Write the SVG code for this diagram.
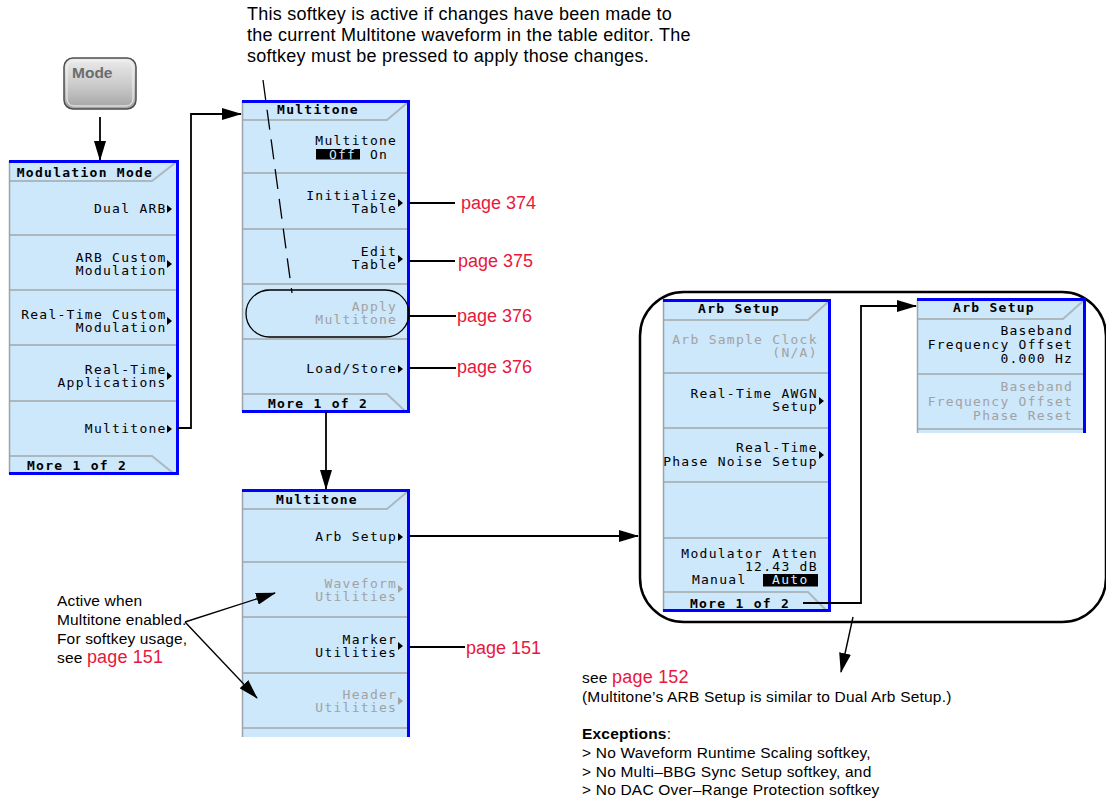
<svg xmlns="http://www.w3.org/2000/svg" width="1106" height="801" viewBox="0 0 1106 801">
<defs>
<linearGradient id="modeg" x1="0" y1="0" x2="0" y2="1">
<stop offset="0" stop-color="#ececec"/>
<stop offset="0.55" stop-color="#c9c9c9"/>
<stop offset="1" stop-color="#a4a4a4"/>
</linearGradient>
<marker id="ah" markerWidth="20" markerHeight="12" refX="19" refY="6" orient="auto" markerUnits="userSpaceOnUse">
<path d="M0,0 L20,6 L0,12 z" fill="#000"/>
</marker>
<style>
.mf{fill:#cde7fb}
.sep{stroke:#adb7be;stroke-width:2;fill:none}
.bb{stroke:#0000ff;stroke-width:3;fill:none}
.lb{stroke:#9ca4aa;stroke-width:1.5;fill:none}
.mt{font-family:"DejaVu Sans Mono",monospace;font-size:13px;letter-spacing:1.27px;fill:#000;text-anchor:end}
.tt{font-weight:bold;text-anchor:middle}
.dis{fill:#a2a2a2}
.inv{fill:#d6ecfb}
.tri{fill:#000}
.trd{fill:#a2a2a2}
.ln{stroke:#000;stroke-width:1.8;fill:none}
.tx{font-family:"Liberation Sans",Arial,sans-serif;fill:#000}
.red{fill:#e8173c}
.pg{font-family:"Liberation Sans",Arial,sans-serif;font-size:18px;fill:#e8173c}
</style>
</defs>
<rect width="1106" height="801" fill="#fff"/>

<g id="mode-key">
<rect x="64" y="58" width="72" height="51" rx="9" fill="url(#modeg)" stroke="#4d4d4d" stroke-width="1.5"/>
<rect x="67" y="61" width="66" height="45" rx="7" fill="none" stroke="#f4f4f4" stroke-width="1"/>
<text x="72" y="78" font-family="Liberation Sans, Arial, sans-serif" font-size="15.5" font-weight="bold" fill="#6c6c6c">Mode</text>
</g>

<g id="top-note" class="tx" font-size="18" letter-spacing="0.25">
<text x="247" y="20">This softkey is active if changes have been made to</text>
<text x="247" y="41">the current Multitone waveform in the table editor. The</text>
<text x="247" y="62">softkey must be pressed to apply those changes.</text>
</g>

<g id="modulation-mode-menu">
<rect class="mf" x="9" y="161" width="169" height="313"/>
<path class="sep" d="M10,181 H152 L175,163"/>
<path class="sep" d="M10,456 H152 L173,473"/>
<path class="sep" d="M10,235 H176 M10,290 H176 M10,345 H176 M10,401 H176"/>
<path class="lb" d="M9.5,161 V474"/>
<path class="bb" d="M9,161.5 H177.5 V473.5 H9"/>
<g class="mt">
<text class="tt" x="85" y="177">Modulation Mode</text>
<text x="166.7" y="213">Dual ARB</text>
<text x="166.7" y="262">ARB Custom<tspan x="166.7" y="275">Modulation</tspan></text>
<text x="166.7" y="319">Real-Time Custom<tspan x="166.7" y="332">Modulation</tspan></text>
<text x="166.7" y="374">Real-Time<tspan x="166.7" y="387">Applications</tspan></text>
<text x="166.7" y="433">Multitone</text>
<text class="tt" x="77" y="470">More 1 of 2</text>
</g>
<path class="tri" d="M167,205 L172,209 L167,213 Z M167,260 L172,264 L167,268 Z M167,317 L172,321 L167,325 Z M167,372 L172,376 L167,380 Z M167,425 L172,429 L167,433 Z"/>
</g>

<g id="multitone-menu-1">
<rect class="mf" x="242" y="101" width="167" height="311"/>
<path class="sep" d="M243,120 H387 L407,103"/>
<path class="sep" d="M243,394 H387 L405,411"/>
<path class="sep" d="M243,173 H407 M243,229 H407 M243,284 H407 M243,339 H407"/>
<path class="lb" d="M242.5,101 V412"/>
<path class="bb" d="M242,101.5 H408.5 V411.5 H242"/>
<rect x="316" y="149" width="44" height="10.5" fill="#000"/>
<g class="mt">
<text class="tt" x="318" y="114">Multitone</text>
<text x="397.2" y="145">Multitone<tspan class="inv" x="356.2" y="158.5">Off</tspan><tspan x="388.2" y="158.5">On</tspan></text>
<text x="397.2" y="200">Initialize<tspan x="397.2" y="213">Table</tspan></text>
<text x="397.2" y="256">Edit<tspan x="397.2" y="269">Table</tspan></text>
<text class="dis" x="397.2" y="311">Apply<tspan x="397.2" y="324">Multitone</tspan></text>
<text x="397.2" y="373">Load/Store</text>
<text class="tt" x="318" y="408">More 1 of 2</text>
</g>
<path class="tri" d="M398,199 L403,203 L398,207 Z M398,255 L403,259 L398,263 Z M398,365 L403,369 L398,373 Z"/>
</g>

<g id="multitone-menu-2">
<rect class="mf" x="242" y="490" width="167" height="247"/>
<path class="sep" d="M243,509 H387 L407,492"/>
<path class="sep" d="M243,562 H407 M243,617 H407 M243,673 H407 M243,728 H407"/>
<path class="lb" d="M242.5,490 V737"/>
<path class="bb" d="M242,490.5 H408.5 V737"/>
<g class="mt">
<text class="tt" x="317" y="504">Multitone</text>
<text x="397.2" y="541">Arb Setup</text>
<text class="dis" x="397.2" y="588">Waveform<tspan x="397.2" y="601">Utilities</tspan></text>
<text x="397.2" y="644">Marker<tspan x="397.2" y="657">Utilities</tspan></text>
<text class="dis" x="397.2" y="699">Header<tspan x="397.2" y="712">Utilities</tspan></text>
</g>
<path class="tri" d="M398,533 L403,537 L398,541 Z M398,642 L403,646 L398,650 Z"/>
<path class="trd" d="M398,585 L403,589 L398,593 Z M398,697 L403,701 L398,705 Z"/>
</g>

<g id="arb-setup-frame">
<rect x="640" y="292" width="466" height="330" rx="44" fill="none" stroke="#000" stroke-width="2.5"/>
</g>

<g id="arb-setup-menu-1">
<rect class="mf" x="663" y="300" width="167" height="311"/>
<path class="sep" d="M664,320 H808 L828,302"/>
<path class="sep" d="M664,592 H808 L826,610"/>
<path class="sep" d="M664,373 H828 M664,428 H828 M664,482 H828 M664,538 H828"/>
<path class="lb" d="M663.5,300 V611"/>
<path class="bb" d="M663,300.5 H829.5 V610.5 H663"/>
<rect x="763" y="574" width="55" height="12.5" fill="#000"/>
<g class="mt">
<text class="tt" x="739" y="313">Arb Setup</text>
<text class="dis" x="817.8" y="344">Arb Sample Clock<tspan x="817.8" y="357">(N/A)</tspan></text>
<text x="817.8" y="398">Real-Time AWGN<tspan x="817.8" y="411">Setup</tspan></text>
<text x="817.8" y="452">Real-Time<tspan x="817.8" y="466">Phase Noise Setup</tspan></text>
<text x="817.8" y="558">Modulator Atten<tspan x="817.8" y="571">12.43 dB</tspan><tspan x="746.5" y="584">Manual</tspan><tspan class="inv" x="808.5" y="584">Auto</tspan></text>
<text class="tt" x="740" y="608">More 1 of 2</text>
</g>
<path class="tri" d="M819,397 L824,401 L819,405 Z M819,451 L824,455 L819,459 Z"/>
</g>

<g id="arb-setup-menu-2">
<rect class="mf" x="917" y="299" width="168" height="134"/>
<path class="sep" d="M918,319 H1063 L1083,301"/>
<path class="sep" d="M918,374 H1083 M918,429 H1083"/>
<path class="lb" d="M917.5,299 V433"/>
<path class="bb" d="M917,299.5 H1084.5 V433"/>
<g class="mt">
<text class="tt" x="994" y="312">Arb Setup</text>
<text x="1073.2" y="335">Baseband<tspan x="1073.2" y="349">Frequency Offset</tspan><tspan x="1073.2" y="363">0.000 Hz</tspan></text>
<text class="dis" x="1073.2" y="391">Baseband<tspan x="1073.2" y="406">Frequency Offset</tspan><tspan x="1073.2" y="420">Phase Reset</tspan></text>
</g>
</g>

<g id="page-labels">
<text class="pg" x="461" y="209">page 374</text>
<text class="pg" x="458" y="267">page 375</text>
<text class="pg" x="457" y="322">page 376</text>
<text class="pg" x="457" y="373">page 376</text>
<text class="pg" x="466" y="654">page 151</text>
</g>

<g id="annotation-left" class="tx" font-size="15.5" letter-spacing="0.15">
<text x="57" y="606">Active when</text>
<text x="57" y="625">Multitone enabled.</text>
<text x="57" y="644">For softkey usage,</text>
<text x="57" y="663">see <tspan class="red" font-size="18">page 151</tspan></text>
</g>

<g id="annotation-bottom" class="tx" font-size="15.5" letter-spacing="0.2">
<text x="582" y="683">see <tspan class="red" font-size="18">page 152</tspan></text>
<text x="582" y="702">(Multitone’s ARB Setup is similar to Dual Arb Setup.)</text>
<text x="582" y="739"><tspan font-weight="bold">Exceptions</tspan>:</text>
<text x="582" y="758">&gt; No Waveform Runtime Scaling softkey,</text>
<text x="582" y="777">&gt; No Multi–BBG Sync Setup softkey, and</text>
<text x="582" y="795">&gt; No DAC Over–Range Protection softkey</text>
</g>

<g id="connectors">
<path class="ln" d="M100,117 V160" marker-end="url(#ah)"/>
<path class="ln" d="M178,428 H191 V114 H241" marker-end="url(#ah)"/>
<path class="ln" d="M326,412 V489" marker-end="url(#ah)"/>
<path class="ln" d="M409,203 H455"/>
<path class="ln" d="M409,261 H455"/>
<path class="ln" d="M408,316 H456"/>
<path class="ln" d="M409,368 H456"/>
<path class="ln" d="M409,536 H638" marker-end="url(#ah)"/>
<path class="ln" d="M409,647 H465"/>
<path class="ln" d="M185,622 L275,593" marker-end="url(#ah)" style="stroke-width:1.4"/>
<path class="ln" d="M185,622 L257,698" marker-end="url(#ah)" style="stroke-width:1.4"/>
<path class="ln" d="M803,603 H861 V306 H916" marker-end="url(#ah)"/>
<path class="ln" d="M853,617 L841,672" marker-end="url(#ah)" style="stroke-width:1.4"/>
<path d="M263,80 L292,293" stroke="#000" stroke-width="1.3" stroke-dasharray="20 10" fill="none"/>
<rect x="246" y="290" width="163" height="47" rx="23.5" fill="none" stroke="#000" stroke-width="1.3"/>
</g>
</svg>
